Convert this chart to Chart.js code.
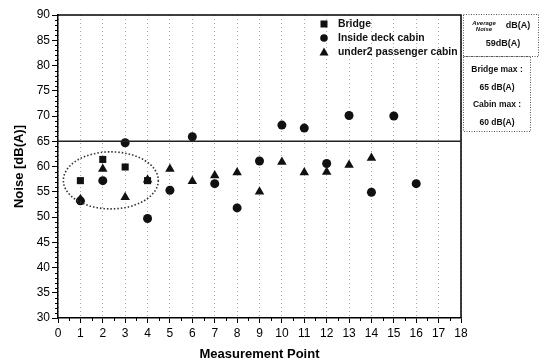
<!DOCTYPE html>
<html><head><meta charset="utf-8">
<script src="https://cdn.jsdelivr.net/npm/chart.js@4/dist/chart.umd.min.js"></script>
<style>html,body{margin:0;padding:0;background:#fff;}#wrap{width:543px;height:362px;}</style>
</head><body><div id="wrap"><canvas id="c" width="543" height="362"></canvas></div>
<script>
const bridgeX = [1, 2, 3, 4];
const bridgeY = [57.2, 61.4, 59.9, 57.2];
const cabinX = [1, 2, 3, 4, 5, 6, 7, 8, 9, 10, 11, 12, 13, 14, 15, 16];
const cabinY = [53.2, 57.2, 64.7, 49.7, 55.3, 65.9, 56.6, 51.8, 61.1, 68.2, 67.6, 60.6, 70.1, 54.9, 70.0, 56.6];
const passX = [1, 2, 3, 4, 5, 6, 7, 8, 9, 10, 11, 12, 13, 14];
const passY = [53.5, 59.5, 53.9, 57.4, 59.5, 57.1, 58.2, 58.8, 55.0, 60.9, 58.8, 58.9, 60.3, 61.7];
const seriesNames = ['Bridge', 'Inside deck cabin', 'under2 passenger cabin'];
const limitLine = 65;
const ellipseBox = {x0: 0.24, x1: 4.48, y0: 51.6, y1: 62.9};
const infoBox1 = ['Average', 'Noise', 'dB(A)', '59dB(A)'];
const infoBox2 = ['Bridge max :', '65 dB(A)', 'Cabin max :', '60 dB(A)'];

const pts = (xs, ys) => xs.map((x, i) => ({x: x, y: ys[i]}));
const FONT = "'Liberation Sans', Arial, sans-serif";

const extras = {
  id: 'extras',
  afterDraw(chart) {
    const ctx = chart.ctx, a = chart.chartArea, xs = chart.scales.x, ys = chart.scales.y;
    ctx.save();
    // minor ticks
    ctx.strokeStyle = '#000'; ctx.lineWidth = 1;
    ctx.beginPath();
    for (let v = 30; v <= 90; v += 1) {
      if (v % 5 === 0) continue;
      const y = Math.round(ys.getPixelForValue(v)) + 0.5;
      ctx.moveTo(a.left - 3, y); ctx.lineTo(a.left, y);
    }
    for (let v = 0.5; v < 18; v += 1) {
      const x = Math.round(xs.getPixelForValue(v)) + 0.5;
      ctx.moveTo(x, a.bottom); ctx.lineTo(x, a.bottom + 3);
    }
    ctx.stroke();
    // frame top/right
    ctx.lineWidth = 1.5;
    ctx.beginPath();
    ctx.moveTo(a.left, a.top); ctx.lineTo(a.right, a.top); ctx.lineTo(a.right, a.bottom);
    ctx.stroke();
    // limit line
    const ly = ys.getPixelForValue(limitLine);
    ctx.lineWidth = 1.5; ctx.strokeStyle = '#222';
    ctx.beginPath(); ctx.moveTo(a.left, ly); ctx.lineTo(a.right, ly); ctx.stroke();
    // ellipse
    const ex0 = xs.getPixelForValue(ellipseBox.x0), ex1 = xs.getPixelForValue(ellipseBox.x1);
    const ey0 = ys.getPixelForValue(ellipseBox.y1), ey1 = ys.getPixelForValue(ellipseBox.y0);
    ctx.setLineDash([1.5, 2]); ctx.lineWidth = 1.6; ctx.strokeStyle = '#333';
    ctx.beginPath();
    ctx.ellipse((ex0 + ex1) / 2, (ey0 + ey1) / 2, (ex1 - ex0) / 2, (ey1 - ey0) / 2, 0, 0, Math.PI * 2);
    ctx.stroke();
    ctx.setLineDash([]);
    // legend
    const lx = 324, lyy = [24, 38, 52];
    const styles = ['rect', 'circle', 'triangle'];
    ctx.fillStyle = '#111';
    styles.forEach((s, i) => {
      const y = lyy[i];
      ctx.beginPath();
      if (s === 'rect') ctx.rect(lx - 3.5, y - 3.5, 7, 7);
      else if (s === 'circle') ctx.arc(lx, y, 3.8, 0, Math.PI * 2);
      else { ctx.moveTo(lx, y - 4.5); ctx.lineTo(lx + 4.5, y + 3.5); ctx.lineTo(lx - 4.5, y + 3.5); ctx.closePath(); }
      ctx.fill();
      ctx.font = 'bold 10.4px ' + FONT; ctx.textBaseline = 'middle'; ctx.textAlign = 'left';
      ctx.fillText(seriesNames[i], 338, y + 0.5);
    });
    // info boxes
    ctx.setLineDash([1, 1.5]); ctx.lineWidth = 1; ctx.strokeStyle = '#555';
    ctx.strokeRect(463.5, 14.5, 75, 42);
    ctx.strokeRect(463.5, 56.5, 67, 75);
    ctx.setLineDash([]);
    ctx.fillStyle = '#111'; ctx.textAlign = 'center';
    ctx.font = 'italic bold 6px ' + FONT;
    ctx.fillText(infoBox1[0], 484, 23);
    ctx.fillText(infoBox1[1], 484, 29);
    ctx.font = 'bold 9px ' + FONT;
    ctx.fillText(infoBox1[2], 518, 26);
    ctx.fillText(infoBox1[3], 503, 44);
    ctx.font = 'bold 8.5px ' + FONT;
    ctx.fillText(infoBox2[0], 497, 70);
    ctx.fillText(infoBox2[1], 497, 88);
    ctx.fillText(infoBox2[2], 497, 105);
    ctx.fillText(infoBox2[3], 497, 123);
    ctx.restore();
  }
};

new Chart(document.getElementById('c'), {
  type: 'scatter',
  data: {
    datasets: [
      {label: seriesNames[0], data: pts(bridgeX, bridgeY), pointStyle: 'rect', radius: 5, backgroundColor: '#111', borderColor: '#111', borderWidth: 0},
      {label: seriesNames[1], data: pts(cabinX, cabinY), pointStyle: 'circle', radius: 4.5, backgroundColor: '#111', borderColor: '#111', borderWidth: 0},
      {label: seriesNames[2], data: pts(passX, passY), pointStyle: 'triangle', radius: 5.5, backgroundColor: '#111', borderColor: '#111', borderWidth: 0}
    ]
  },
  options: {
    responsive: false, animation: false, devicePixelRatio: 1,
    layout: {padding: {left: 0, right: 82, top: 15, bottom: 0}},
    plugins: {legend: {display: false}, tooltip: {enabled: false}},
    scales: {
      x: {
        type: 'linear', min: 0, max: 18,
        afterFit(s) { s.height = 44; },
        ticks: {stepSize: 1, color: '#000', font: {family: FONT, size: 12}, padding: 3, maxRotation: 0},
        grid: {color: '#aaaaaa', lineWidth: 1, tickColor: '#000', tickLength: 5, drawTicks: true, tickBorderDash: []},
        border: {display: true, color: '#000', width: 1.5, dash: [1, 3]},
        title: {display: true, text: 'Measurement Point', color: '#000', font: {family: FONT, size: 13, weight: 'bold'}, padding: {top: 4, bottom: 0}}
      },
      y: {
        min: 30, max: 90,
        afterFit(s) { s.width = 58; },
        ticks: {stepSize: 5, color: '#000', font: {family: FONT, size: 12}, padding: 2},
        grid: {drawOnChartArea: false, tickColor: '#000', tickLength: 6, drawTicks: true},
        border: {display: true, color: '#000', width: 1.5},
        title: {display: true, text: 'Noise [dB(A)]', color: '#000', font: {family: FONT, size: 13, weight: 'bold'}, padding: {top: 12, bottom: 4}}
      }
    }
  },
  plugins: [extras]
});
</script></body></html>
